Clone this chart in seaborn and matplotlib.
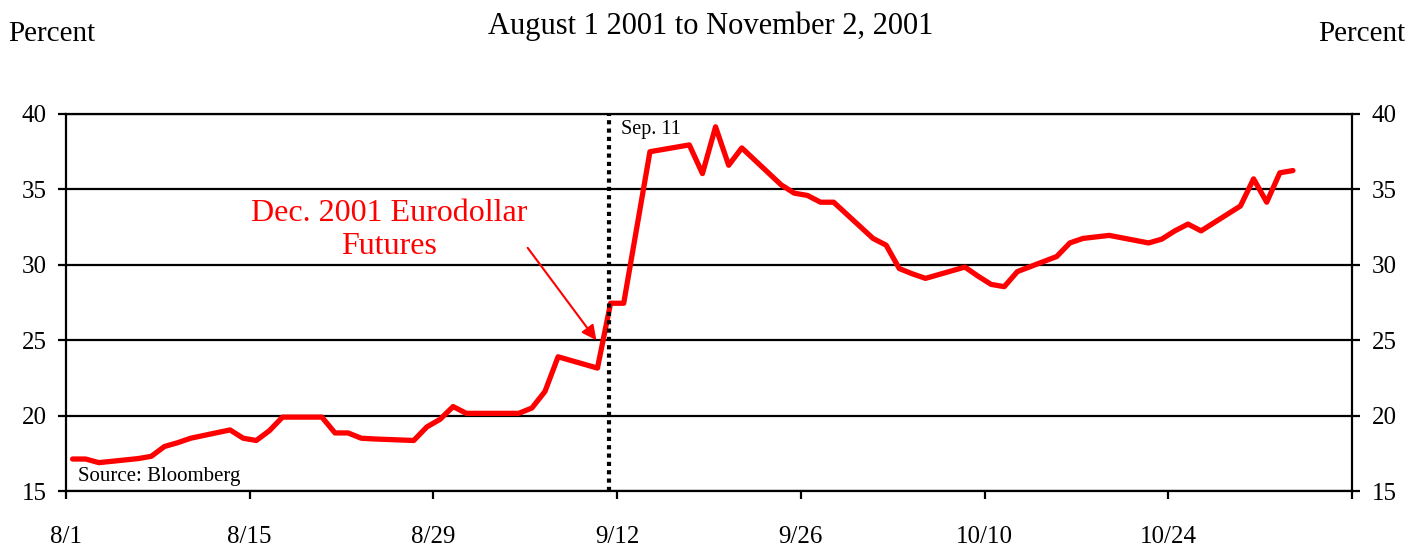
# Dec. 2001 Eurodollar futures, Aug 1 - Nov 2, 2001
import matplotlib
matplotlib.use('Agg')
import matplotlib.pyplot as plt
import seaborn as sns
import pandas as pd

# fechas (dias habiles, 9/3 y 9/13 sin dato)
fechas = ['2001-08-01', '2001-08-02', '2001-08-03', '2001-08-06', '2001-08-07',
          '2001-08-08', '2001-08-09', '2001-08-10', '2001-08-13', '2001-08-14',
          '2001-08-15', '2001-08-16', '2001-08-17', '2001-08-20', '2001-08-21',
          '2001-08-22', '2001-08-23', '2001-08-24', '2001-08-27', '2001-08-28',
          '2001-08-29', '2001-08-30', '2001-08-31', '2001-09-04', '2001-09-05',
          '2001-09-06', '2001-09-07', '2001-09-10', '2001-09-11', '2001-09-12',
          '2001-09-14', '2001-09-17', '2001-09-18', '2001-09-19', '2001-09-20',
          '2001-09-21', '2001-09-24', '2001-09-25', '2001-09-26', '2001-09-27',
          '2001-09-28', '2001-10-01', '2001-10-02', '2001-10-03', '2001-10-04',
          '2001-10-05', '2001-10-08', '2001-10-09', '2001-10-10', '2001-10-11',
          '2001-10-12', '2001-10-15', '2001-10-16', '2001-10-17', '2001-10-18',
          '2001-10-19', '2001-10-22', '2001-10-23', '2001-10-24', '2001-10-25',
          '2001-10-26', '2001-10-29', '2001-10-30', '2001-10-31', '2001-11-01',
          '2001-11-02']
valores = [17.12, 17.12, 16.88, 17.15, 17.3,
           17.95, 18.2, 18.5, 19.05, 18.5,
           18.35, 19.0, 19.9, 19.9, 18.85,
           18.85, 18.5, 18.45, 18.35, 19.25,
           19.75, 20.6, 20.15, 20.15, 20.5,
           21.6, 23.9, 23.15, 27.45, 27.45,
           37.5, 37.95, 36.05, 39.15, 36.6,
           37.75, 35.3, 34.75, 34.6, 34.15,
           34.15, 31.75, 31.3, 29.75, 29.4,
           29.1, 29.85, 29.25, 28.7, 28.55,
           29.55, 30.55, 31.45, 31.75, 31.85,
           31.95, 31.45, 31.7, 32.25, 32.7,
           32.25, 33.9, 35.7, 34.15, 36.1,
           36.25]

ticks_x = ['2001-08-01', '2001-08-15', '2001-08-29', '2001-09-12', '2001-09-26',
           '2001-10-10', '2001-10-24', '2001-11-07']
etiquetas_x = ['8/1', '8/15', '8/29', '9/12', '9/26', '10/10', '10/24', '']
ticks_y = [15, 20, 25, 30, 35, 40]
fecha_sep11 = '2001-09-11'

sns.set_style('white')
plt.rcParams['font.family'] = ['Liberation Serif', 'DejaVu Serif']
plt.rcParams['text.color'] = 'black'

df = pd.DataFrame({'Fecha': pd.to_datetime(fechas) + pd.Timedelta(hours=12),
                   'Valor': valores})

fig = plt.figure(figsize=(14.1, 5.45), dpi=100)
ax = fig.add_axes([66 / 1410, 1 - 491 / 545, 1286 / 1410, 377 / 545])

sns.lineplot(data=df, x='Fecha', y='Valor', color='#ff0000', linewidth=3.8, ax=ax)

# linea del 11 de septiembre
ax.axvline(pd.Timestamp(fecha_sep11) + pd.Timedelta(hours=10), color='black',
           linestyle=(0, (1, 1)), linewidth=3, zorder=3)
ax.text(0.4316, 0.958, 'Sep. 11', transform=ax.transAxes, fontsize=14.5,
        ha='left', va='center')

ax.set_xlim(pd.Timestamp(ticks_x[0]), pd.Timestamp(ticks_x[-1]))
ax.set_ylim(15, 40)
ax.set_xticks(pd.to_datetime(ticks_x))
ax.set_xticklabels(etiquetas_x)
ax.set_yticks(ticks_y)
ax.set_xlabel('')
ax.set_ylabel('')

ax.grid(axis='y', color='black', linewidth=1.6)
ax.grid(axis='x', visible=False)
for s in ax.spines.values():
    s.set_visible(True)
    s.set_color('black')
    s.set_linewidth(1.6)

ax.tick_params(axis='y', which='major', left=True, right=True, labelleft=True,
               labelright=True, direction='out', length=6, width=1.6,
               labelsize=18, pad=8, colors='black')
ax.tick_params(axis='x', which='major', bottom=True, direction='out', length=6,
               width=1.6, labelsize=18, pad=19, colors='black')

# anotacion en rojo
ax.text(0.251, 0.692, 'Dec. 2001 Eurodollar\nFutures', transform=ax.transAxes,
        color='#ff0000', fontsize=23, ha='center', va='center', linespacing=1.2)
ax.annotate('', xy=(pd.Timestamp('2001-09-10') + pd.Timedelta(hours=10), 25.0),
            xytext=(0.359, 0.645), textcoords='axes fraction',
            arrowprops=dict(arrowstyle='-|>', color='#ff0000', lw=1.5,
                            mutation_scale=22, shrinkA=0, shrinkB=0))

ax.text(0.0093, 0.012, 'Source: Bloomberg', transform=ax.transAxes,
        fontsize=15, ha='left', va='bottom')

# titulos
fig.text(8 / 1410, 1 - 34 / 545, 'Percent', fontsize=21, ha='left', va='center')
fig.text(1405 / 1410, 1 - 34 / 545, 'Percent', fontsize=21, ha='right', va='center')
fig.text(711 / 1410, 1 - 26 / 545, 'August 1 2001 to November 2, 2001', fontsize=22,
         ha='center', va='center')

fig.savefig('out.png', dpi=100)
